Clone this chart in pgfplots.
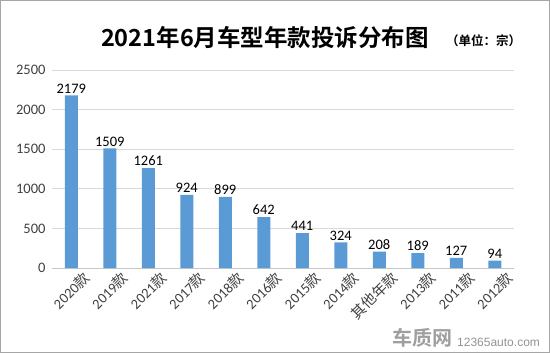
\documentclass[border=0pt]{standalone}
\usepackage{pgfplots}
\pgfplotsset{compat=1.18}
\usepackage{fontspec}
\setmainfont{Carlito}
\newfontfamily\cjk{Noto Sans CJK SC}
\newfontfamily\cjkb{Noto Sans CJK SC Bold}
\newfontfamily\wm{Liberation Sans}
\definecolor{barblue}{HTML}{5B9BD5}
\definecolor{gridgray}{HTML}{D9D9D9}
\definecolor{txt}{HTML}{404040}
\begin{document}
\begin{tikzpicture}
\draw[gray!70, line width=1bp] (0.5bp,-0.5bp) rectangle (549.5bp,-352.5bp);
\begin{axis}[
  at={(52bp,-268bp)}, anchor=south west,
  scale only axis, width=462bp, height=198bp,
  ymin=0, ymax=2500, ytick distance=500,
  xmin=-0.5, xmax=11.5,
  xtick={0,...,11},
  xticklabels={2020{\cjk 款},2019{\cjk 款},2021{\cjk 款},2017{\cjk 款},2018{\cjk 款},2016{\cjk 款},2015{\cjk 款},2014{\cjk 款},{\cjk 其他年款},2013{\cjk 款},2011{\cjk 款},2012{\cjk 款}},
  xticklabel style={rotate=45, anchor=north east, font=\fontsize{14.5bp}{14.5bp}\selectfont, text=txt, inner sep=1bp, xshift=7bp, yshift=-8bp},
  yticklabel style={font=\fontsize{14.5bp}{14.5bp}\selectfont, text=txt, xshift=-3bp},
  /pgf/number format/assume math mode=true,
  /pgf/number format/set thousands separator={},
  scaled y ticks=false,
  ymajorgrids, grid style={gridgray, line width=0.8bp},
  axis lines=left,
  y axis line style={draw=none},
  x axis line style={-, gridgray!80!gray, line width=0.8bp},
  major tick length=0pt,
  ybar, bar width=13bp,
  nodes near coords,
  nodes near coords style={font=\fontsize{14.5bp}{14.5bp}\selectfont, text=black, /pgf/number format/assume math mode=true, /pgf/number format/set thousands separator={}, inner sep=2bp},
  clip=false,
]
\addplot[fill=barblue, draw=none] coordinates {
(0,2179) (1,1509) (2,1261) (3,924) (4,899) (5,642) (6,441) (7,324) (8,208) (9,189) (10,127) (11,94)
};
\end{axis}
\node[anchor=base, font=\cjkb\fontsize{23.5bp}{24bp}\selectfont, inner sep=0pt] at (265bp,-46bp) {2021年6月车型年款投诉分布图};
\node[anchor=base west, font=\cjkb\fontsize{12.5bp}{13bp}\selectfont, inner sep=0pt] at (446bp,-45bp) {（单位：宗）};
\node[anchor=base west, font=\cjkb\fontsize{20bp}{20bp}\selectfont, text=gray!75, inner sep=0pt] at (392bp,-345bp) {车质网};
\node[anchor=base west, font=\wm\fontsize{12bp}{12bp}\selectfont, text=gray!85, inner sep=0pt] at (457bp,-346bp) {12365auto.com};
\end{tikzpicture}
\end{document}
